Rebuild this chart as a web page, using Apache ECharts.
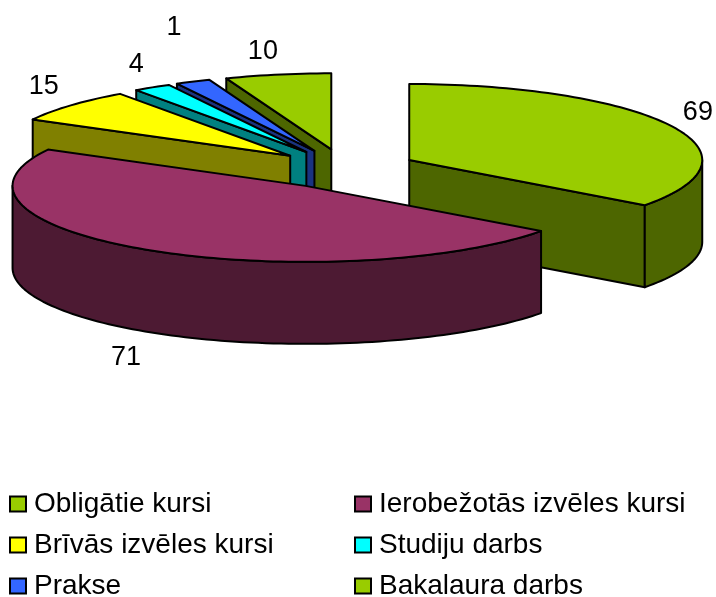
<!DOCTYPE html>
<html>
<head>
<meta charset="utf-8">
<style>html,body{margin:0;padding:0;background:#fff}#chart{width:716px;height:597px}</style>
<script src="https://cdn.jsdelivr.net/npm/echarts@6/dist/echarts.min.js"></script>
</head>
<body>
<div id="chart"></div>
<script>
// ---- data ----
const categories = ['Obligātie kursi', 'Ierobežotās izvēles kursi', 'Brīvās izvēles kursi', 'Studiju darbs', 'Prakse', 'Bakalaura darbs'];
const values = [69, 71, 15, 4, 1, 10];
const topColors = ['#99CC00', '#993366', '#FFFF00', '#00FFFF', '#3366FF', '#99CC00'];
const wallColors = ['#4D6600', '#4D1A33', '#808000', '#008080', '#1A3380', '#4D6600'];

// ---- layout ----
const pie = { cx: 344.5, cy: 169, rx: 293, ry: 76, depth: 82, explodeX: 72.5, explodeY: 20 };
const paintOrder = [1, 6, 5, 4, 3, 2];            // z of each slice (back to front)
const labelOffsets = [[27, -13], [-22, 108], [-27, -19], [-16, -23], [-19, -54], [-15, -23]];
// The reference's 3D view does not draw angles linearly: fraction of the turn -> drawn degrees.
const viewWarp = [[0, 0], [0.40588, 126.5], [0.82353, 298.5], [0.91176, 324.5], [0.93529, 332], [0.94118, 339], [1, 360]];

const total = values.reduce((a, b) => a + b, 0);
function warp(f) {
  for (let i = 1; i < viewWarp.length; i++) {
    const a = viewWarp[i - 1], b = viewWarp[i];
    if (f <= b[0] + 1e-9) return a[1] + (b[1] - a[1]) * (f - a[0]) / (b[0] - a[0]);
  }
  return 360;
}
function sliceAngles(i) {
  let s = 0;
  for (let k = 0; k < i; k++) s += values[k];
  return [warp(s / total), warp((s + values[i]) / total)];
}
const rad = d => d * Math.PI / 180;

function renderSlice(i) {
  const [a0, a1] = sliceAngles(i);
  const mid = (a0 + a1) / 2;
  const cx = pie.cx + pie.explodeX * Math.sin(rad(mid));
  const cy = pie.cy - pie.explodeY * Math.cos(rad(mid));
  const rim = a => [cx + pie.rx * Math.sin(rad(a)), cy - pie.ry * Math.cos(rad(a))];
  const down = p => [p[0], p[1] + pie.depth];
  const arc = (from, to) => {
    const pts = [], n = Math.max(2, Math.ceil((to - from) / 1.5));
    for (let k = 0; k <= n; k++) pts.push(rim(from + (to - from) * k / n));
    return pts;
  };
  const poly = (points, fill) => ({
    type: 'polygon',
    shape: { points },
    style: { fill, stroke: '#000', lineWidth: 2, lineJoin: 'round' }
  });
  const centre = [cx, cy];
  const children = [];
  const wall = wallColors[i];
  // radial faces that look towards the viewer
  if (Math.sin(rad(a0)) < -1e-6) {
    const p = rim(a0);
    children.push(poly([centre, p, down(p), down(centre)], wall));
  }
  if (Math.sin(rad(a1)) > 1e-6) {
    const p = rim(a1);
    children.push(poly([centre, p, down(p), down(centre)], wall));
  }
  // front part of the rim
  const f0 = Math.max(a0, 90), f1 = Math.min(a1, 270);
  if (f1 > f0) {
    const top = arc(f0, f1);
    children.push(poly(top.concat(top.slice().reverse().map(down)), wall));
  }
  // top face
  children.push(poly([centre].concat(arc(a0, a1)), topColors[i]));
  // value label
  const m = rim(mid);
  children.push({
    type: 'text',
    style: {
      x: m[0] + labelOffsets[i][0],
      y: m[1] + labelOffsets[i][1],
      text: String(values[i]),
      fill: '#000',
      font: '27px "Liberation Sans", Arial, sans-serif',
      textAlign: 'center',
      textVerticalAlign: 'middle'
    }
  });
  return { type: 'group', children };
}

const legendBase = {
  orient: 'vertical',
  top: 490,
  height: 200,
  itemWidth: 16,
  itemHeight: 15,
  itemGap: 13,
  icon: 'rect',
  selectedMode: false,
  textStyle: { fontFamily: '"Liberation Sans", Arial, sans-serif', fontSize: 28, color: '#000', lineHeight: 27, padding: [0, 0, 0, 3] },
  itemStyle: { borderColor: '#000', borderWidth: 2 },
  padding: 0
};

const chart = echarts.init(document.getElementById('chart'), null, { renderer: 'canvas' });
chart.setOption({
  animation: false,
  backgroundColor: '#fff',
  legend: [
    Object.assign({}, legendBase, { left: 9, width: 330, data: [categories[0], categories[2], categories[4]] }),
    Object.assign({}, legendBase, { left: 354, width: 360, data: [categories[1], categories[3], categories[5]] })
  ],
  series: categories.map((name, i) => ({
    type: 'custom',
    name,
    coordinateSystem: 'none',
    z: paintOrder[i] + 1,
    silent: true,
    itemStyle: { color: topColors[i] },
    data: [[values[i]]],
    renderItem: () => renderSlice(i)
  }))
});
</script>
</body>
</html>
